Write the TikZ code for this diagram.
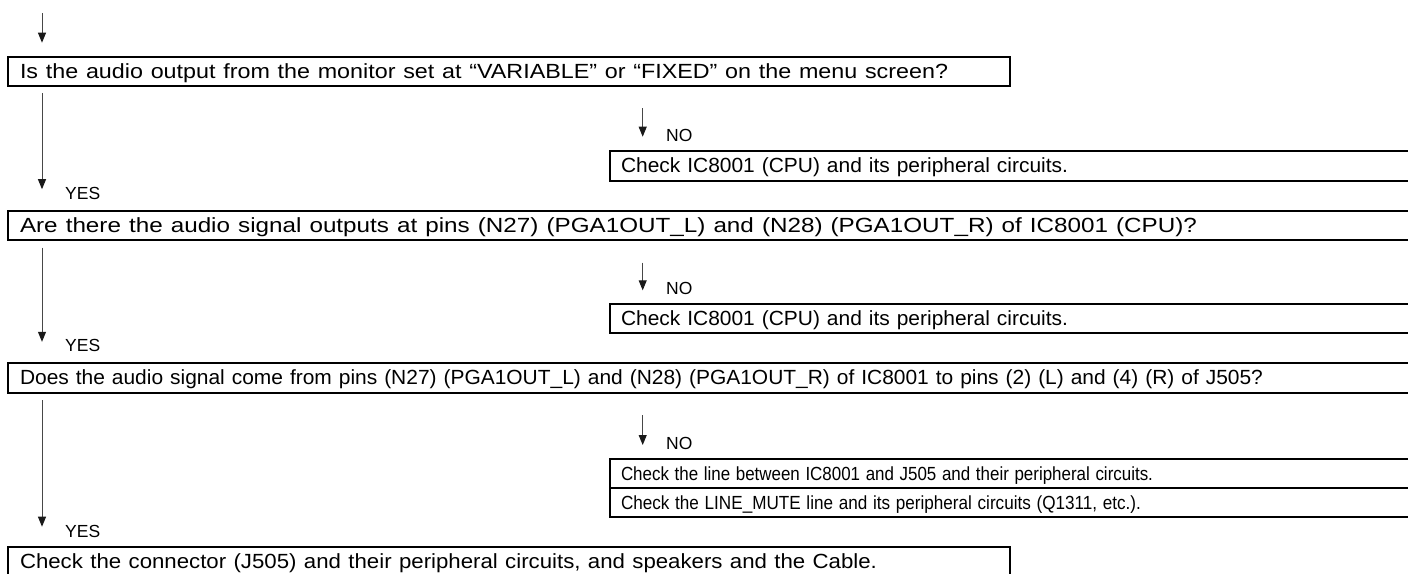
\documentclass[tikz,border=0pt]{standalone}
\usepackage{fontspec}
\usepackage{graphicx}
\setmainfont{Liberation Sans}
\usetikzlibrary{arrows.meta,calc}
\newcommand\fitto[2]{\resizebox{#1}{\height}{#2}}
\begin{document}
\begin{tikzpicture}[x=1pt,y=-1pt,
  box/.style={draw=black,line width=1.7pt,rectangle,anchor=north west,
    inner xsep=12pt,inner ysep=0pt,outer sep=0pt,align=left,
    text height=14.6pt,text depth=0.8pt,
    font=\fontsize{20.5}{24}\selectfont},
  small/.style={text height=13.4pt,text depth=0.6pt,font=\fontsize{19}{22}\selectfont},
  wide/.style={minimum width=1412pt,text width=1388pt},
  half/.style={minimum width=1002pt,text width=978pt},
  nobox/.style={minimum width=810pt,text width=788pt,inner xsep=10.7pt},
  arr/.style={draw=black!72,line width=1pt,-{Triangle[length=10pt,width=8pt,color=black!90]}},
  lbl/.style={anchor=west,inner sep=0pt,font=\fontsize{17.5}{20}\selectfont}]
\useasboundingbox (0,0) rectangle (1408,573);
\clip (0,0) rectangle (1408,573);
\coordinate (col) at (42,0);
\coordinate (nocol) at (642.7,0);
\coordinate (start) at (42,13);

\node[box,half,minimum height=29pt] (q1) at (8,56.7)
  {\fitto{928pt}{Is the audio output from the monitor set at “VARIABLE” or “FIXED” on the menu screen?}};
\node[box,nobox,minimum height=30pt] (n1) at (610,150.7)
  {\fitto{447pt}{Check IC8001 (CPU) and its peripheral circuits.}};
\node[box,wide,minimum height=29.3pt] (q2) at (8,210.7)
  {\fitto{1177pt}{Are there the audio signal outputs at pins (N27) (PGA1OUT\_L) and (N28) (PGA1OUT\_R) of IC8001 (CPU)?}};
\node[box,nobox,minimum height=29pt] (n2) at (610,304.3)
  {\fitto{447pt}{Check IC8001 (CPU) and its peripheral circuits.}};
\node[box,wide,minimum height=29.4pt] (q3) at (8,363.3)
  {\fitto{1243pt}{Does the audio signal come from pins (N27) (PGA1OUT\_L) and (N28) (PGA1OUT\_R) of IC8001 to pins (2) (L) and (4) (R) of J505?}};
\node[box,nobox,small,minimum height=29.3pt] (n3a) at (610,459)
  {\fitto{532pt}{Check the line between IC8001 and J505 and their peripheral circuits.}};
\node[box,nobox,small,minimum height=29pt] (n3b) at (610,488.3)
  {\fitto{520pt}{Check the LINE\_MUTE line and its peripheral circuits (Q1311, etc.).}};
\node[box,half,minimum height=29pt] (f) at (8,546.7)
  {\fitto{857pt}{Check the connector (J505) and their peripheral circuits, and speakers and the Cable.}};

% top arrow
\draw[arr,shorten >=14pt] (start) -- (q1.north -| col);
% YES arrows
\draw[arr,shorten <=7.5pt,shorten >=21.5pt] (q1.south -| col) -- (q2.north -| col);
\draw[arr,shorten <=7.5pt,shorten >=21.5pt] (q2.south -| col) -- (q3.north -| col);
\draw[arr,shorten <=7.5pt,shorten >=20pt] (q3.south -| col) -- (f.north -| col);
\node[lbl] (y1) at ($(q2.north -| col)+(23,-17.5)$) {YES};
\node[lbl] (y2) at ($(q3.north -| col)+(23,-17.5)$) {YES};
\node[lbl] (y3) at ($(f.north -| col)+(23,-15.5)$) {YES};
% NO arrows
\draw[arr,shorten <=22.5pt,shorten >=14pt] (q1.south -| nocol) -- (n1.north -| nocol);
\draw[arr,shorten <=22.5pt,shorten >=14pt] (q2.south -| nocol) -- (n2.north -| nocol);
\draw[arr,shorten <=22.5pt,shorten >=14pt] (q3.south -| nocol) -- (n3a.north -| nocol);
\node[lbl] (no1) at ($(n1.north -| nocol)+(23.3,-15.7)$) {NO};
\node[lbl] (no2) at ($(n2.north -| nocol)+(23.3,-15.7)$) {NO};
\node[lbl] (no3) at ($(n3a.north -| nocol)+(23.3,-15.7)$) {NO};
\end{tikzpicture}
\end{document}
